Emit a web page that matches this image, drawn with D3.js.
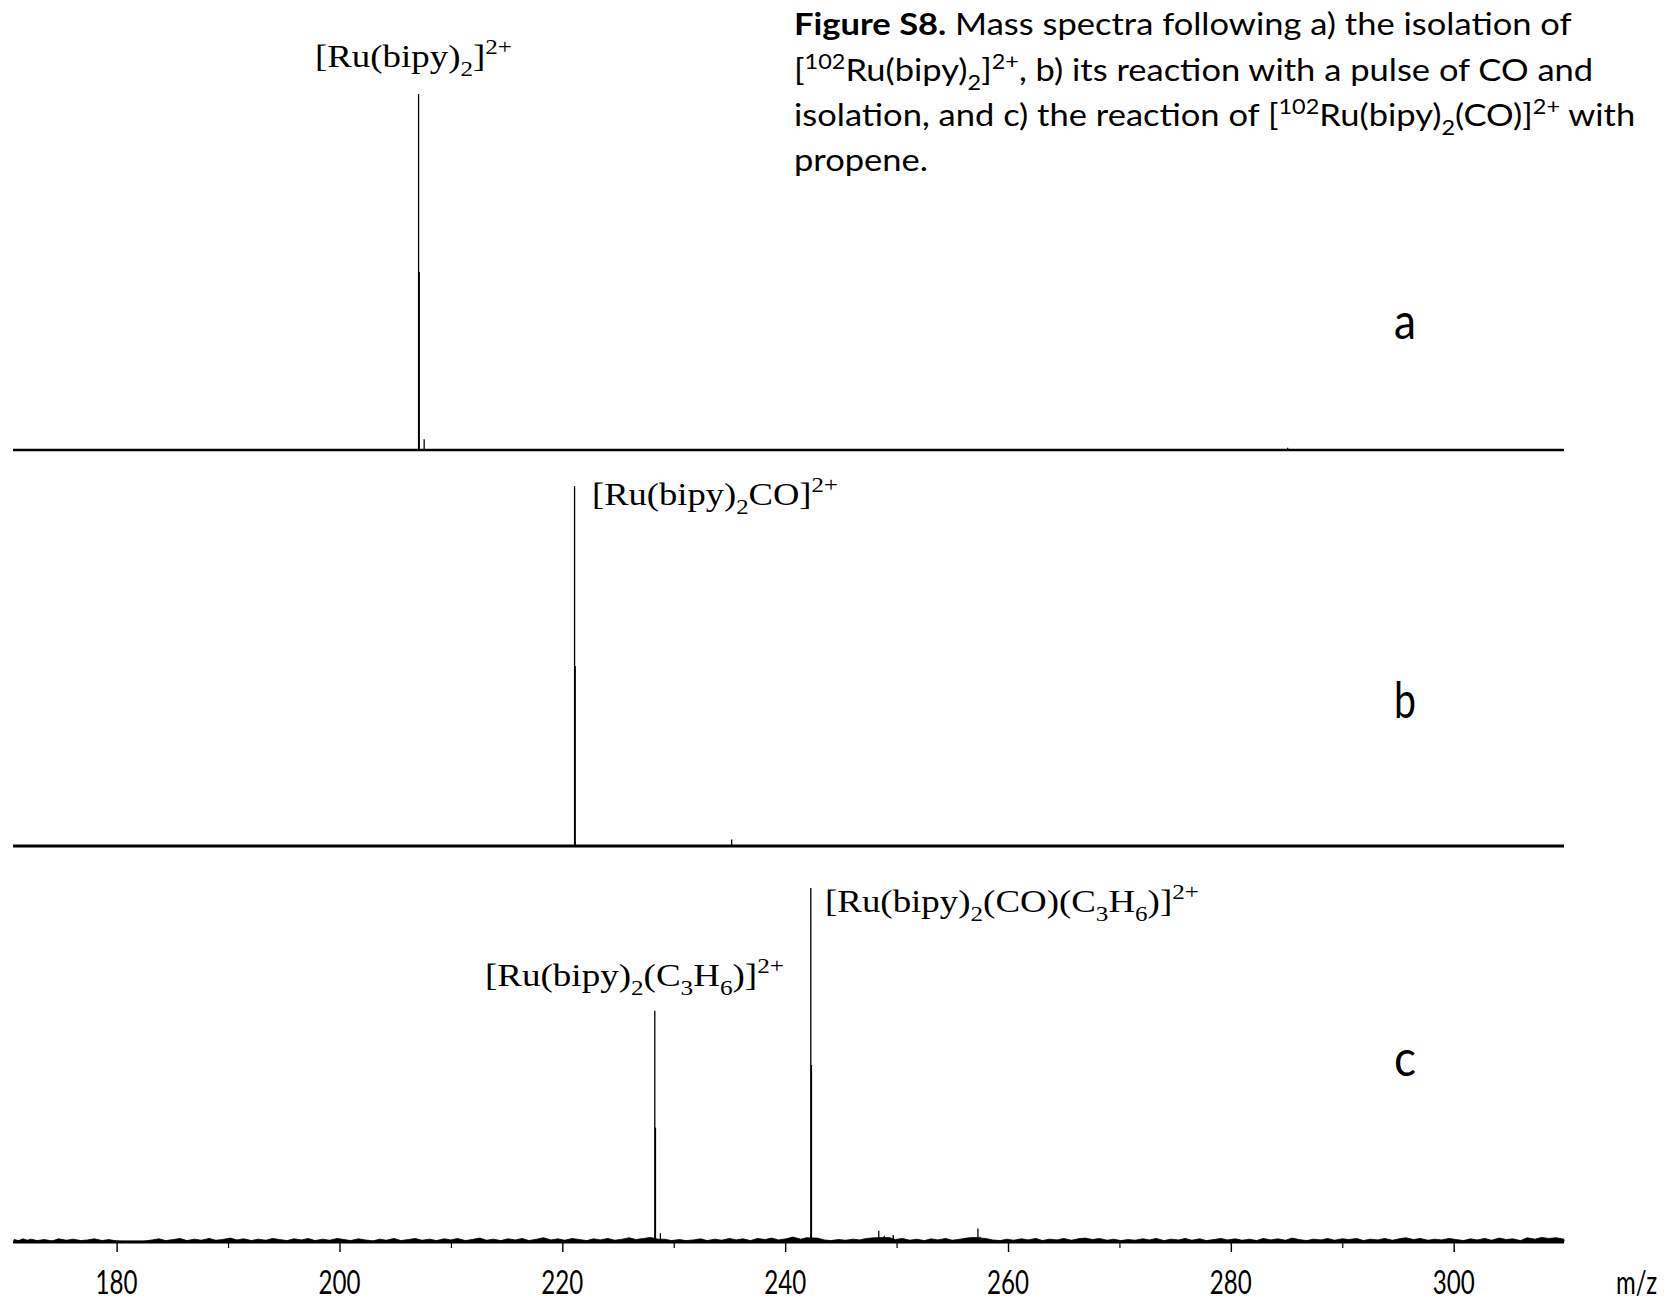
<!DOCTYPE html>
<html>
<head>
<meta charset="utf-8">
<script src="https://d3js.org/d3.v7.min.js"></script>
<style>
  body { margin: 0; background: #fff; }
  svg { display: block; }
</style>
</head>
<body>
<div id="my_dataviz"></div>
<script>
    // peak lists (m/z, % of the panel's tallest peak)
    var mzA = [207.1, 207.16, 207.6, 285.1];
    var intA = [100, 50, 3.0, 0.6];

    var mzB = [221.1, 221.16, 235.2];
    var intB = [100, 50, 1.8];

    var mzC = [228.3, 228.36, 228.8, 242.3, 242.36, 248.4, 248.9, 249.7, 257.3, 257.5];
    var intC = [65.3, 32.3, 2.5, 100, 50, 3.2, 1.8, 2.0, 3.8, 1.5];

    // baseline noise of spectrum c (m/z, %)
    var noiseC = [
        [170.8, 0.7], [171.2, 0.4], [171.6, 0.9], [172.0, 0.5], [172.3, 0.8], [172.9, 0.4], [173.5, 0.7],
        [174.2, 0.3], [174.8, 0.9], [175.5, 0.5], [176.1, 0.8], [176.8, 0.4], [177.4, 0.6], [178.0, 0.9],
        [178.7, 0.4], [179.3, 0.7], [180.0, 0.3], [180.6, 0.2], [181.5, 0.2], [182.4, 0.2], [183.2, 0.6],
        [183.8, 0.9], [184.4, 0.4], [185.1, 0.7], [185.7, 1.0], [186.3, 0.4], [187.0, 0.8], [187.6, 0.5],
        [188.3, 1.0], [188.9, 0.5], [189.5, 0.7], [190.2, 1.1], [190.8, 0.6], [191.4, 0.9], [192.1, 0.4],
        [192.7, 0.8], [193.4, 0.5], [194.0, 1.0], [194.6, 0.7], [195.3, 0.4], [195.9, 0.9], [196.6, 0.6],
        [197.2, 1.0], [197.8, 0.4], [198.5, 0.8], [199.1, 0.5], [199.8, 1.0], [200.4, 0.7], [201.0, 0.4],
        [201.7, 0.9], [202.3, 0.6], [203.0, 0.3], [203.6, 0.8], [204.2, 0.5], [204.9, 1.0], [205.5, 0.4],
        [206.2, 0.7], [206.8, 1.0], [207.4, 0.5], [208.1, 0.8], [208.7, 0.4], [209.4, 0.9], [210.0, 0.6],
        [210.6, 1.0], [211.3, 0.4], [211.9, 0.7], [212.6, 1.1], [213.2, 0.5], [213.8, 0.8], [214.5, 0.4],
        [215.1, 0.9], [215.8, 0.6], [216.4, 1.0], [217.0, 0.4], [217.7, 0.8], [218.3, 1.2], [219.0, 0.6],
        [219.6, 0.9], [220.2, 0.5], [220.9, 1.0], [221.5, 0.7], [222.2, 0.4], [222.8, 0.9], [223.4, 0.6],
        [224.1, 1.0], [224.7, 0.5], [225.4, 0.8], [226.0, 1.2], [226.6, 0.7], [227.3, 1.0], [227.9, 1.3],
        [228.6, 0.8], [229.2, 0.8], [229.8, 0.4], [230.5, 0.7], [231.1, 0.4], [231.8, 0.6], [232.4, 0.9],
        [233.0, 0.4], [233.7, 0.8], [234.3, 0.5], [235.0, 1.0], [235.6, 0.6], [236.2, 0.9], [236.9, 0.4],
        [237.5, 1.0], [238.2, 0.7], [238.8, 1.1], [239.4, 0.6], [240.1, 0.9], [240.7, 1.4], [241.4, 0.8],
        [241.9, 1.2], [242.9, 1.1], [243.5, 0.6], [244.1, 0.4], [244.8, 0.7], [245.4, 0.5], [246.1, 0.8],
        [246.7, 0.6], [247.3, 1.0], [248.0, 1.2], [249.3, 1.3], [249.9, 0.7], [250.5, 1.0], [251.2, 0.5],
        [251.8, 0.8], [252.5, 0.4], [253.1, 0.9], [253.7, 0.6], [254.4, 1.0], [255.0, 0.5], [255.7, 0.8],
        [256.3, 1.1], [256.9, 1.3], [258.0, 1.0], [258.6, 0.6], [259.3, 0.4], [259.9, 0.8], [260.5, 0.5],
        [261.2, 0.9], [261.8, 0.6], [262.5, 1.0], [263.1, 0.4], [263.7, 0.8], [264.4, 0.6], [265.0, 1.0],
        [265.7, 0.5], [266.3, 0.9], [266.9, 1.1], [267.6, 0.7], [268.2, 1.0], [268.9, 0.5], [269.5, 0.8],
        [270.1, 0.4], [270.8, 0.7], [271.4, 0.5], [272.1, 0.9], [272.7, 0.6], [273.3, 1.0], [274.0, 0.4],
        [274.6, 0.8], [275.3, 0.6], [275.9, 1.0], [276.5, 0.5], [277.2, 0.9], [277.8, 0.4], [278.5, 0.7],
        [279.1, 1.0], [279.7, 0.6], [280.4, 0.9], [281.0, 0.5], [281.7, 0.8], [282.3, 0.4], [282.9, 1.0],
        [283.6, 0.6], [284.2, 0.9], [284.9, 0.5], [285.5, 1.1], [286.1, 0.7], [286.8, 0.4], [287.4, 0.8],
        [288.1, 0.6], [288.7, 1.0], [289.3, 0.5], [290.0, 0.9], [290.6, 0.7], [291.3, 1.0], [291.9, 0.4],
        [292.5, 0.8], [293.2, 0.6], [293.8, 1.0], [294.5, 0.5], [295.1, 0.9], [295.7, 1.2], [296.4, 0.7],
        [297.0, 1.0], [297.7, 0.5], [298.3, 0.8], [298.9, 0.6], [299.6, 1.0], [300.2, 0.7], [300.9, 0.4],
        [301.5, 0.9], [302.1, 0.6], [302.8, 1.0], [303.4, 0.5], [304.1, 1.1], [304.7, 0.7], [305.3, 0.9],
        [306.0, 0.4], [306.6, 1.2], [307.3, 0.8], [307.9, 1.3], [308.5, 1.0], [309.2, 1.2], [309.9, 0.8]
    ];

    var majorTicks = [180, 200, 220, 240, 260, 280, 300];
    var minorTicks = [190, 210, 230, 250, 270, 290];
    var panelLetters = ["a", "b", "c"];

    var width = 1671, height = 1302;

    var svg = d3.select("#my_dataviz")
        .append("svg")
        .attr("width", width)
        .attr("height", height);

    var x = d3.scaleLinear()
        .domain([170.7, 309.9])
        .range([13, 1564]);

    // one intensity scale per spectrum (baseline px, top px)
    var panels = [
        { mz: mzA, val: intA, base: 450, top: 94, lw: 2.6, letterY: 339 },
        { mz: mzB, val: intB, base: 846, top: 486, lw: 3, letterY: 718 },
        { mz: mzC, val: intC, base: 1242, top: 888, lw: 3.2, letterY: 1076 }
    ];
    panels.forEach(function(p) {
        p.y = d3.scaleLinear().domain([0, 100]).range([p.base, p.top]);
    });

    // squeeze a text so that it spans w pixels (the figure is horizontally compressed)
    function fit(t, px, py, w) {
        var bw = t.node().getBBox().width;
        t.attr("transform", "translate(" + px + "," + py + ") scale(" + (w / bw) + ",1)");
        return w / bw;
    }

    // text with sub- and superscripts
    function rich(parts, size, family) {
        var t = svg.append("text")
            .attr("font-family", family)
            .attr("fill", "#000");
        var shift = 0;
        parts.forEach(function(pt) {
            var kind = pt[1] || "";
            var target = kind === "sub" ? 0.28 * size : kind === "sup" ? -0.4 * size : 0;
            var ts = t.append("tspan")
                .attr("dy", target - shift)
                .attr("font-size", kind ? size * 0.68 : size)
                .text(pt[0]);
            if (pt[2]) ts.attr("font-weight", "bold");
            shift = target;
        });
        return t;
    }

    var pc = panels[2];

    // noise band of spectrum c
    svg.append("path")
        .datum(noiseC)
        .attr("fill", "#000")
        .attr("stroke", "#000")
        .attr("stroke-width", 0.8)
        .attr("d", d3.area()
            .x(function(d) { return x(d[0]); })
            .y0(pc.base)
            .y1(function(d) { return pc.y(d[1]); }));

    panels.forEach(function(p, i) {
        // baseline
        svg.append("line")
            .attr("x1", x.range()[0]).attr("x2", x.range()[1])
            .attr("y1", p.base).attr("y2", p.base)
            .attr("stroke", "#000")
            .attr("stroke-width", p.lw);

        // peaks
        svg.append("g").selectAll("line")
            .data(p.mz)
            .enter()
            .append("line")
            .attr("x1", function(d) { return x(d); })
            .attr("x2", function(d) { return x(d); })
            .attr("y1", p.base)
            .attr("y2", function(d, j) { return p.y(p.val[j]); })
            .attr("stroke", "#000")
            .attr("stroke-width", 1.3);
    });

    // bottom axis
    var axisG = svg.append("g")
        .attr("transform", "translate(0," + (pc.base + 1) + ")")
        .call(d3.axisBottom(x).tickValues(majorTicks).tickSize(9).tickFormat(""));
    axisG.select(".domain").remove();
    axisG.selectAll("line").attr("stroke", "#000").attr("stroke-width", 1.4);

    var minorG = svg.append("g")
        .attr("transform", "translate(0," + (pc.base + 1) + ")")
        .call(d3.axisBottom(x).tickValues(minorTicks).tickSize(5).tickFormat(""));
    minorG.select(".domain").remove();
    minorG.selectAll("line").attr("stroke", "#000").attr("stroke-width", 1.2);

    // tick labels
    majorTicks.forEach(function(v) {
        var t = svg.append("text")
            .attr("font-family", "Lato")
            .attr("font-size", 33)
            .attr("text-anchor", "middle")
            .text(v);
        fit(t, x(v), 1294, 42);
    });
    fit(svg.append("text").attr("font-family", "Lato").attr("font-size", 33).text("m/z"), 1616, 1294, 41);

    // panel letters
    panels.forEach(function(p, i) {
        var t = svg.append("text")
            .attr("font-family", "Lato")
            .attr("font-size", 50)
            .attr("text-anchor", "middle")
            .text(panelLetters[i]);
        fit(t, 1405, p.letterY, 22);
    });

    // peak labels
    var serif = "'Liberation Serif', 'Times New Roman', serif";
    fit(rich([["[Ru(bipy)"], ["2", "sub"], ["]"], ["2+", "sup"]], 32, serif), 315, 67, 197);
    fit(rich([["[Ru(bipy)"], ["2", "sub"], ["CO]"], ["2+", "sup"]], 32, serif), 592, 505, 246);
    fit(rich([["[Ru(bipy)"], ["2", "sub"], ["(CO)(C"], ["3", "sub"], ["H"], ["6", "sub"], [")]"], ["2+", "sup"]], 32, serif), 825, 912, 374);
    fit(rich([["[Ru(bipy)"], ["2", "sub"], ["(C"], ["3", "sub"], ["H"], ["6", "sub"], [")]"], ["2+", "sup"]], 32, serif), 485, 986, 299);

    // caption
    var cap = "Lato";
    var l1 = rich([["Figure S8.", "", true], [" Mass spectra following a) the isolation of"]], 31, cap);
    var k = fit(l1, 794, 35, 778);
    var lines = [
        [["["], ["102", "sup"], ["Ru(bipy)"], ["2", "sub"], ["]"], ["2+", "sup"], [", b) its reaction with a pulse of CO and"]],
        [["isolation, and c) the reaction of ["], ["102", "sup"], ["Ru(bipy)"], ["2", "sub"], ["(CO)]"], ["2+", "sup"], [" with"]],
        [["propene."]]
    ];
    lines.forEach(function(parts, i) {
        var t = rich(parts, 31, cap);
        t.attr("transform", "translate(794," + (81 + i * 45) + ") scale(" + k + ",1)");
    });
</script>
</body>
</html>
